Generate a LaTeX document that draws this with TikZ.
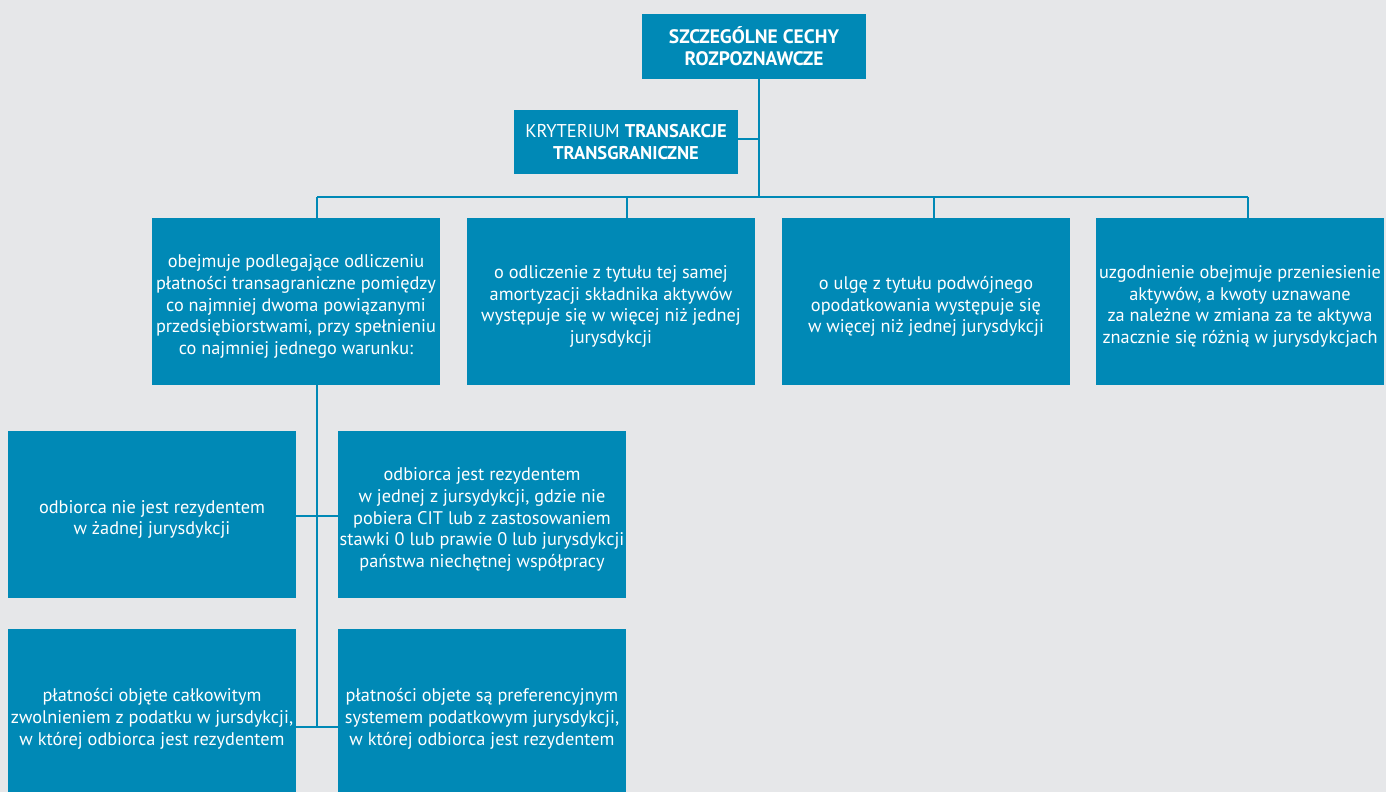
\documentclass[tikz,border=0pt]{standalone}
\usepackage{fontspec}
\setmainfont{PT Sans}
\definecolor{bgcol}{RGB}{230,231,233}
\definecolor{boxblue}{RGB}{0,137,182}
\newcommand\mytopstrut{\rule{0pt}{23pt}}
\tikzset{
  bluebox/.style={fill=boxblue, text=white, inner sep=0pt, align=center, minimum width=288pt, minimum height=167pt, font=\fontsize{18.3}{21.7}\selectfont},
  headbox/.style={fill=boxblue, text=white, inner sep=0pt, align=center, minimum width=224pt, minimum height=64pt, font=\fontsize{18.5}{22}\selectfont},
  conn/.style={draw=boxblue, line width=2.6pt}
}
\begin{document}
\begin{tikzpicture}[x=1pt,y=-1pt]
\useasboundingbox (0,0) rectangle (1386,792);
\fill[bgcol] (0,0) rectangle (1386,792);
\coordinate (bus) at (759,197);
\coordinate (kj) at (759,139);
\coordinate (t1) at (317,197);
\coordinate (t2) at (627,197);
\coordinate (t3) at (934,197);
\coordinate (t4) at (1248,197);
\coordinate (v) at (317,727);
\coordinate (h1) at (317,516);
\node[headbox, minimum height=65pt, font=\fontsize{19.5}{22}\selectfont] (top) at (754,46.5) {\bfseries SZCZEGÓLNE CECHY\\\bfseries ROZPOZNAWCZE};
\node[headbox] (kry) at (626,142) {KRYTERIUM \textbf{TRANSAKCJE}\\\textbf{TRANSGRANICZNE}};
\node[bluebox] (b1) at (296,301.5) {\mytopstrut obejmuje podlegające odliczeniu\\płatności transagraniczne pomiędzy\\co najmniej dwoma powiązanymi\\przedsiębiorstwami, przy spełnieniu\\co najmniej jednego warunku:};
\node[bluebox] (b2) at (611,301.5) {\mytopstrut o odliczenie z tytułu tej samej\\amortyzacji składnika aktywów\\występuje się w więcej niż jednej\\jurysdykcji};
\node[bluebox] (b3) at (926,301.5) {\mytopstrut o ulgę z tytułu podwójnego\\opodatkowania występuje się\\w więcej niż jednej jurysdykcji};
\node[bluebox] (b4) at (1240,301.5) {\mytopstrut uzgodnienie obejmuje przeniesienie\\aktywów, a kwoty uznawane\\za należne w zmiana za te aktywa\\znacznie się różnią w jurysdykcjach};
\node[bluebox] (c1) at (152,514.5) {\mytopstrut odbiorca nie jest rezydentem\\w żadnej jurysdykcji};
\node[bluebox] (c2) at (482,514.5) {\mytopstrut odbiorca jest rezydentem\\w jednej z jursydykcji, gdzie nie\\pobiera CIT lub z zastosowaniem\\stawki 0 lub prawie 0 lub jurysdykcji\\państwa niechętnej współpracy};
\node[bluebox, minimum height=170pt] (d1) at (152,714) {\mytopstrut płatności objęte całkowitym\\zwolnieniem z podatku w jursdykcji,\\w której odbiorca jest rezydentem};
\node[bluebox, minimum height=170pt] (d2) at (482,714) {\mytopstrut płatności objete są preferencyjnym\\systemem podatkowym jurysdykcji,\\w której odbiorca jest rezydentem};
\draw[conn] (top.south -| bus) -- (bus);
\draw[conn] (kry.east |- kj) -- (kj);
\draw[conn] (t1) -- (t4);
\draw[conn] (t1) -- (t1 |- b1.north);
\draw[conn] (t2) -- (t2 |- b2.north);
\draw[conn] (t3) -- (t3 |- b3.north);
\draw[conn] (t4) -- (t4 |- b4.north);
\draw[conn] (b1.south -| v) -- (v);
\draw[conn] (c1.east |- h1) -- (c2.west |- h1);
\draw[conn] (d1.east |- v) -- (d2.west |- v);
\end{tikzpicture}
\end{document}
